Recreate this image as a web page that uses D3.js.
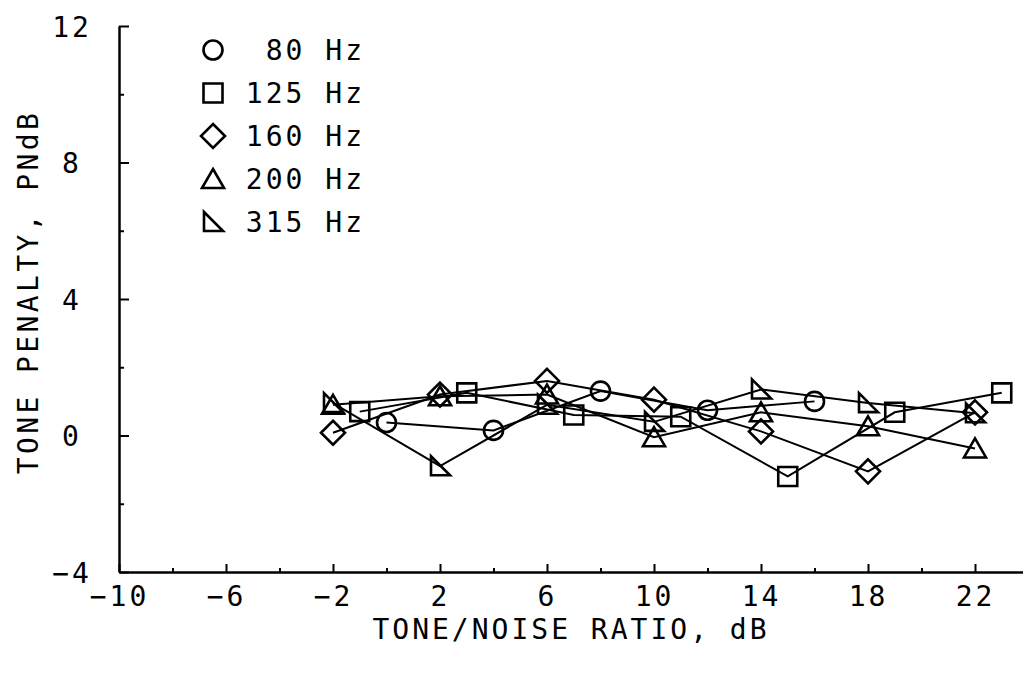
<!DOCTYPE html>
<html>
<head>
<meta charset="utf-8">
<script src="https://cdn.jsdelivr.net/npm/d3@7"></script>
<style>
  html, body { margin: 0; padding: 0; background: #fff; }
  svg { display: block; }
  text { font-family: "DejaVu Sans Mono", "Liberation Mono", monospace; fill: #000; }
</style>
</head>
<body>
<svg id="chart" width="1023" height="673"></svg>
<script>
// Tone/noise ratio (dB) and tone penalty (PNdB) per tone frequency
const x80  = [0, 4, 8, 12, 16];
const y80  = [0.38, 0.15, 1.3, 0.74, 1.0];
const x125 = [-1, 3, 7, 11, 15, 19, 23];
const y125 = [0.7, 1.25, 0.6, 0.55, -1.2, 0.68, 1.25];
const x160 = [-2, 2, 6, 10, 14, 18, 22];
const y160 = [0.08, 1.2, 1.6, 1.05, 0.12, -1.05, 0.68];
const x200 = [-2, 2, 6, 10, 14, 18, 22];
const y200 = [0.9, 1.15, 1.2, -0.05, 0.68, 0.27, -0.38];
const x315 = [-2, 2, 6, 10, 14, 18, 22];
const y315 = [0.95, -0.9, 0.9, 0.4, 1.35, 0.95, 0.65];

const seriesNames  = ["80 Hz", "125 Hz", "160 Hz", "200 Hz", "315 Hz"];
const seriesShapes = ["circle", "square", "diamond", "triangle", "rtriangle"];

const xMajorTicks = [-10, -6, -2, 2, 6, 10, 14, 18, 22];
const xMinorTicks = [-8, -4, 0, 4, 8, 12, 16, 20];
const yMajorTicks = [-4, 0, 4, 8, 12];
const yMinorTicks = [-2, 2, 6, 10];

const xTitle = "TONE/NOISE RATIO, dB";
const yTitle = "TONE PENALTY, PNdB";

const series = [
  { xs: x80,  ys: y80  },
  { xs: x125, ys: y125 },
  { xs: x160, ys: y160 },
  { xs: x200, ys: y200 },
  { xs: x315, ys: y315 }
].map((s, i) => ({
  name: seriesNames[i],
  shape: seriesShapes[i],
  points: s.xs.map((v, j) => [v, s.ys[j]])
}));

const svg = d3.select("#chart");

const x = d3.scaleLinear().domain([-10, 24]).range([119, 1028.5]);
const y = d3.scaleLinear().domain([-4, 12]).range([572, 26]);

const fmt = d => (d < 0 ? "\u2212" + Math.abs(d) : String(d));

// X axis: major ticks with labels, minor ticks without
const gx = svg.append("g").attr("transform", `translate(0,${y(-4)})`);
gx.call(d3.axisBottom(x).tickValues(xMajorTicks).tickSize(-8).tickSizeOuter(0)
  .tickPadding(13).tickFormat(fmt));
gx.select(".domain").attr("stroke", "#000").attr("stroke-width", 2.5);
gx.selectAll(".tick line").attr("stroke", "#000").attr("stroke-width", 2);
gx.selectAll(".tick text")
  .attr("font-size", 28).attr("letter-spacing", 3)
  .attr("font-family", "DejaVu Sans Mono").attr("dy", "0.75em");

const gxm = svg.append("g").attr("transform", `translate(0,${y(-4)})`);
gxm.call(d3.axisBottom(x).tickValues(xMinorTicks).tickSize(-4).tickSizeOuter(0).tickFormat(""));
gxm.select(".domain").remove();
gxm.selectAll(".tick line").attr("stroke", "#000").attr("stroke-width", 2);

// Y axis: ticks point into the plot
const gy = svg.append("g").attr("transform", `translate(${x(-10)},0)`);
gy.call(d3.axisLeft(y).tickValues(yMajorTicks).tickSize(-10).tickSizeOuter(0)
  .tickPadding(47).tickFormat(fmt));
gy.select(".domain").attr("stroke", "#000").attr("stroke-width", 2.5);
gy.selectAll(".tick line").attr("stroke", "#000").attr("stroke-width", 2);
gy.selectAll(".tick text")
  .attr("font-size", 28).attr("letter-spacing", 3)
  .attr("font-family", "DejaVu Sans Mono")
  .attr("text-anchor", "middle").attr("dy", "0.36em");

const gym = svg.append("g").attr("transform", `translate(${x(-10)},0)`);
gym.call(d3.axisLeft(y).tickValues(yMinorTicks).tickSize(-5).tickSizeOuter(0).tickFormat(""));
gym.select(".domain").remove();
gym.selectAll(".tick line").attr("stroke", "#000").attr("stroke-width", 2);

// Axis titles
svg.append("text")
  .attr("x", 571).attr("y", 639)
  .attr("text-anchor", "middle")
  .attr("font-size", 28).attr("letter-spacing", 3)
  .text(xTitle);

svg.append("text")
  .attr("transform", "translate(38,292) rotate(-90)")
  .attr("text-anchor", "middle")
  .attr("font-size", 28).attr("letter-spacing", 3.4)
  .text(yTitle);

// Marker outlines, centred on (0,0)
function shapePath(kind) {
  const p = d3.path();
  switch (kind) {
    case "circle":
      p.arc(0, 0, 9.5, 0, 2 * Math.PI); p.closePath(); break;
    case "square":
      p.rect(-9.5, -9.5, 19, 19); break;
    case "diamond":
      p.moveTo(0, -12); p.lineTo(12, 0); p.lineTo(0, 12); p.lineTo(-12, 0); p.closePath(); break;
    case "triangle":
      p.moveTo(0, -10); p.lineTo(11, 9); p.lineTo(-11, 9); p.closePath(); break;
    case "rtriangle":
      p.moveTo(-9, -10); p.lineTo(10, 9); p.lineTo(-9, 9); p.closePath(); break;
  }
  return p.toString();
}

const line = d3.line().x(d => x(d[0])).y(d => y(d[1]));

const plot = svg.append("g");
series.forEach(s => {
  plot.append("path")
    .attr("d", line(s.points))
    .attr("fill", "none").attr("stroke", "#000").attr("stroke-width", 2);
});
series.forEach(s => {
  plot.selectAll(null).data(s.points).enter().append("path")
    .attr("transform", d => `translate(${x(d[0])},${y(d[1])})`)
    .attr("d", shapePath(s.shape))
    .attr("fill", "none").attr("stroke", "#000").attr("stroke-width", 2.6)
    .attr("stroke-linejoin", "miter");
});

// Legend
const legend = svg.append("g");
series.forEach((s, i) => {
  const cy = 50 + i * 43;
  legend.append("path")
    .attr("transform", `translate(213,${cy})`)
    .attr("d", shapePath(s.shape))
    .attr("fill", "none").attr("stroke", "#000").attr("stroke-width", 2.6);
  legend.append("text")
    .attr("x", 365).attr("y", cy).attr("dy", "0.36em")
    .attr("text-anchor", "end")
    .attr("font-size", 28).attr("letter-spacing", 3)
    .text(s.name);
});
</script>
</body>
</html>
